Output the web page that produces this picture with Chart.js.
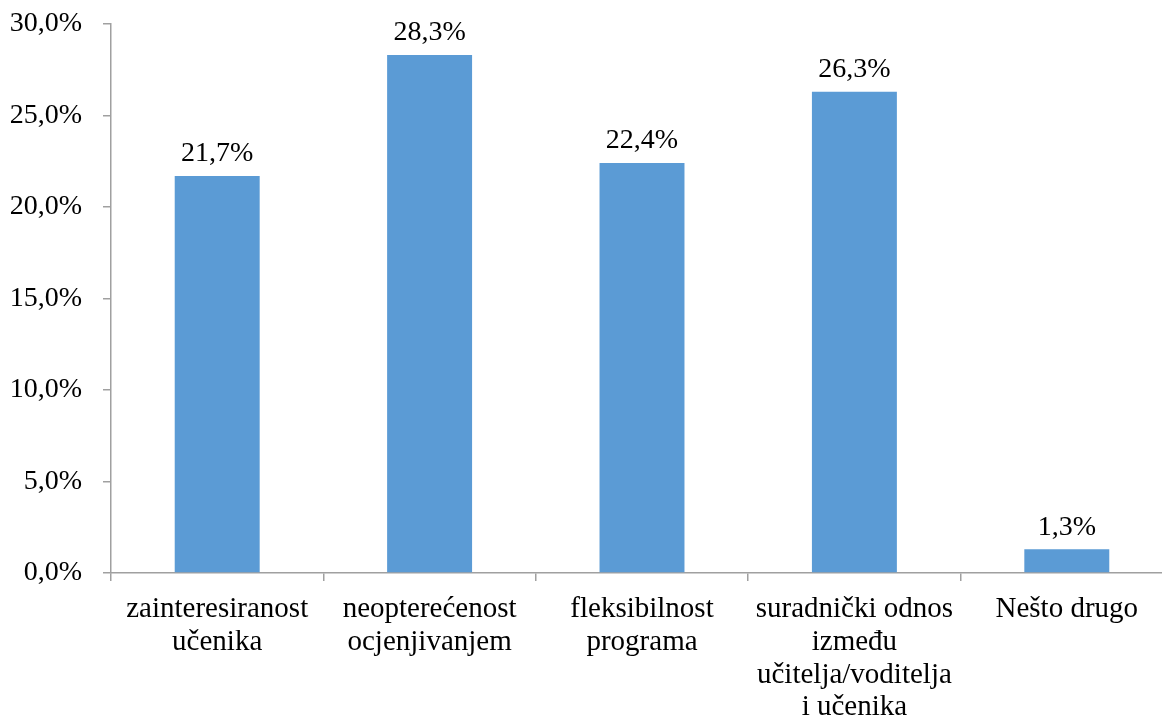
<!DOCTYPE html>
<html lang="hr">
<head>
  <meta charset="UTF-8">
  <title>Grafikon</title>
  <script src="https://cdn.jsdelivr.net/npm/chart.js"></script>
  <style>
    html, body { margin: 0; padding: 0; background: #fff; overflow: hidden; }
    #wrap { width: 1173px; height: 720px; }
  </style>
</head>
<body>
<div id="wrap">
  <canvas id="chart" width="1173" height="720"></canvas>
</div>
<script>
const categories = [
  ["zainteresiranost", "učenika"],
  ["neopterećenost", "ocjenjivanjem"],
  ["fleksibilnost", "programa"],
  ["suradnički odnos", "između", "učitelja/voditelja", "i učenika"],
  ["Nešto drugo"]
];
const values = [21.7, 28.3, 22.4, 26.3, 1.3];
const yTicks = [0, 5, 10, 15, 20, 25, 30];

const FONT = "'Liberation Serif', 'Times New Roman', serif";
const AXIS = "#a0a0a0";

const pct = v => v.toFixed(1).replace(".", ",") + "%";

// labels above the bars
const barLabels = {
  id: "barLabels",
  afterDatasetsDraw(chart) {
    const ctx = chart.ctx;
    const meta = chart.getDatasetMeta(0);
    ctx.save();
    ctx.font = "28px " + FONT;
    ctx.fillStyle = "#000";
    ctx.textAlign = "center";
    ctx.textBaseline = "bottom";
    meta.data.forEach((bar, i) => {
      ctx.fillText(pct(values[i]), bar.x, bar.y - 8);
    });
    ctx.restore();
  }
};

new Chart(document.getElementById("chart"), {
  type: "bar",
  data: {
    labels: categories,
    datasets: [{
      data: values,
      backgroundColor: "#5b9bd5",
      barPercentage: 0.4,
      categoryPercentage: 1
    }]
  },
  options: {
    responsive: false,
    animation: false,
    layout: { padding: { top: 24, left: 0, right: 0, bottom: 0 } },
    plugins: { legend: { display: false }, tooltip: { enabled: false } },
    scales: {
      x: {
        grid: { drawOnChartArea: false, offset: true, color: AXIS, lineWidth: 1.5, tickLength: 8 },
        border: { color: AXIS, width: 1.5 },
        ticks: {
          color: "#000",
          font: { family: FONT, size: 29, lineHeight: 1.13 },
          padding: 12,
          maxRotation: 0,
          autoSkip: false
        },
        afterFit: s => { s.height = 147; }
      },
      y: {
        min: 0,
        max: 30,
        afterBuildTicks: s => { s.ticks = yTicks.map(v => ({ value: v })); },
        grid: { drawOnChartArea: false, color: AXIS, lineWidth: 1.5, tickLength: 8 },
        border: { color: AXIS, width: 1.5 },
        ticks: {
          color: "#000",
          font: { family: FONT, size: 28 },
          padding: 21,
          callback: v => pct(v)
        },
        afterFit: s => {
          s.width = 111;
          s.paddingTop = 0;
          s.paddingBottom = 0;
        }
      }
    }
  },
  plugins: [barLabels]
});
</script>
</body>
</html>
